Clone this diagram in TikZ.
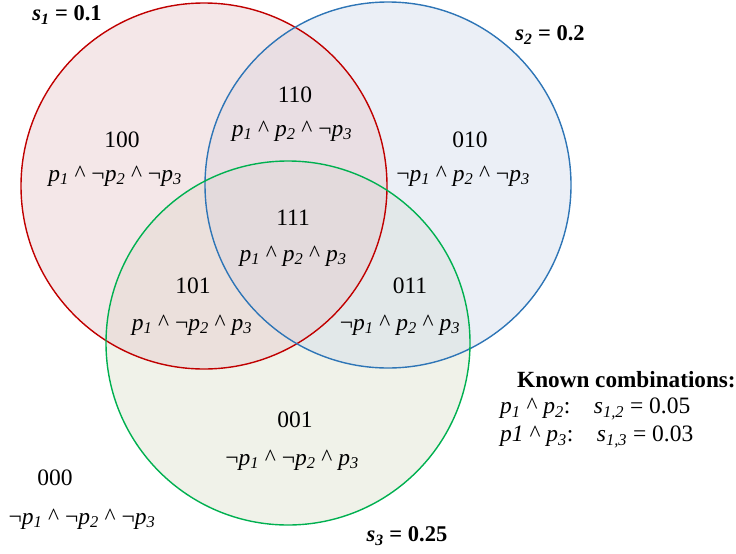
\documentclass[tikz,border=0pt]{standalone}
\usepackage{fontspec}
\setmainfont{Liberation Serif}
\newcommand{\pv}[1]{\textit{p\textsubscript{#1}}}
\newcommand{\myneg}{\char"00AC}
\newcommand{\ca}{\ \char"005E\ }
\begin{document}
\begin{tikzpicture}[x=1pt,y=-1pt,
  lbl/.style={font=\fontsize{23.5}{26}\selectfont, align=center, inner sep=0pt},
  sz/.style={font=\fontsize{22.5}{26}\selectfont\bfseries, inner sep=0pt},
  known/.style={font=\fontsize{23.5}{26}\selectfont, anchor=west, inner sep=0pt}]
\useasboundingbox (0,0) rectangle (736,554);
\definecolor{rs}{HTML}{C00000}
\definecolor{bs}{HTML}{2E75B6}
\definecolor{gs}{HTML}{00B050}
\definecolor{rf}{HTML}{E6CACD}
\definecolor{bf}{HTML}{D3DCEB}
\definecolor{gf}{HTML}{DDE2CE}
\coordinate (cr) at (204,186);
\coordinate (cb) at (388,185);
\coordinate (cg) at (288,343);
\fill[gf, fill opacity=0.45] (cg) circle (182);
\fill[bf, fill opacity=0.45] (cb) circle (183);
\fill[rf, fill opacity=0.45] (cr) circle (183);
\draw[rs, line width=1.4pt] (cr) circle (183);
\draw[bs, line width=1.4pt] (cb) circle (183);
\draw[gs, line width=1.4pt] (cg) circle (182);

\node[sz] (s1) at (67,15) {\textit{s\textsubscript{1}} = 0.1};
\node[sz] (s2) at (550,35) {\textit{s\textsubscript{2}} = 0.2};
\node[sz] (s3) at (407,536) {\textit{s\textsubscript{3}} = 0.25};

\node[lbl] (n100) at (122,140) {100};
\node[lbl] (f100) at (115,176) {\pv{1}\ca\myneg\pv{2}\ca\myneg\pv{3}};
\node[lbl] (n110) at (295,95) {110};
\node[lbl] (f110) at (292,131) {\pv{1}\ca\pv{2}\ca\myneg\pv{3}};
\node[lbl] (n010) at (470,140) {010};
\node[lbl] (f010) at (463,176) {\myneg\pv{1}\ca\pv{2}\ca\myneg\pv{3}};
\node[lbl] (n111) at (293,218) {111};
\node[lbl] (f111) at (293,256) {\pv{1}\ca\pv{2}\ca\pv{3}};
\node[lbl] (n101) at (193,286) {101};
\node[lbl] (f101) at (192,325) {\pv{1}\ca\myneg\pv{2}\ca\pv{3}};
\node[lbl] (n011) at (410,286) {011};
\node[lbl] (f011) at (400,325) {\myneg\pv{1}\ca\pv{2}\ca\pv{3}};
\node[lbl] (n001) at (295,420) {001};
\node[lbl] (f001) at (292,460) {\myneg\pv{1}\ca\myneg\pv{2}\ca\pv{3}};
\node[lbl] (n000) at (55,478) {000};
\node[lbl] (f000) at (82,519) {\myneg\pv{1}\ca\myneg\pv{2}\ca\myneg\pv{3}};

\node[known, font=\fontsize{23.2}{25}\selectfont\bfseries] (kh) at (517,380) {Known combinations:};
\node[known] (k1) at (500,409) {\pv{1}\ca\pv{2}:\quad\textit{s\textsubscript{1,2}} = 0.05};
\node[known] (k2) at (500,437) {\textit{p1}\ca\pv{3}:\quad\textit{s\textsubscript{1,3}} = 0.03};
\end{tikzpicture}
\end{document}
